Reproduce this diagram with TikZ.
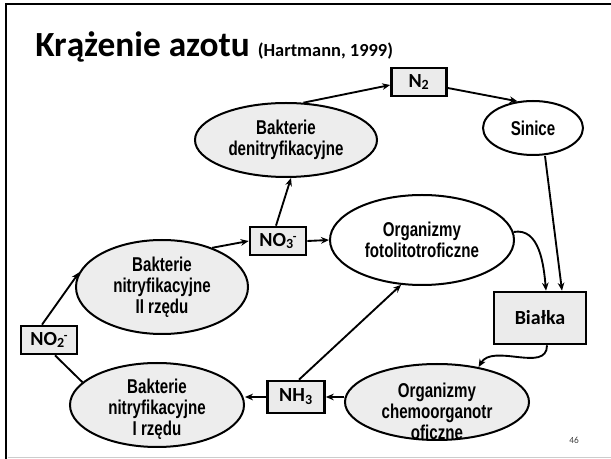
\documentclass[tikz,border=0pt]{standalone}
\usepackage{fontspec}
\setmainfont{Carlito}
\newfontfamily\narrowfont[FakeStretch=0.755]{Liberation Sans}
\usetikzlibrary{shapes.geometric,arrows.meta}
\definecolor{ovalgray}{HTML}{EDEDED}
\definecolor{boxgray}{HTML}{EBEBEB}
\newcommand{\ovalfont}{\narrowfont\bfseries\fontsize{15}{15.75}\selectfont}
\newcommand{\chemfont}{\bfseries\fontsize{15}{17}\selectfont}
\newcommand{\ion}[2]{\textsubscript{#1}\kern-0.05em\raisebox{0.6ex}{\fontsize{9}{9}\selectfont #2}}
\tikzset{
  blob/.style={ellipse, draw, line width=1.5pt, fill=ovalgray, inner sep=0pt,
    align=center, font=\ovalfont},
  chem/.style={rectangle, draw, line width=2pt, fill=boxgray, inner sep=0pt,
    font=\chemfont},
  flow/.style={line width=1.4pt, -{Stealth[length=6pt,width=5pt]}},
  link/.style={line width=1.4pt},
}
\begin{document}
\begin{tikzpicture}[x=0.75pt,y=-0.75pt]
\useasboundingbox (0,0) rectangle (611,459);
% slide frame
\draw[line width=1.6pt] (6,459) -- (6,4) -- (611,4);
\draw[gray!40, line width=0.8pt] (8,457.5) -- (611,457.5);

% title
\node[anchor=base west, inner sep=0pt] (title) at (35,57)
  {\fontsize{26.5}{30}\selectfont\bfseries Krążenie azotu
   \fontsize{13.8}{16}\selectfont (Hartmann, 1999)};

% compounds
\node[chem, minimum width=55*0.75pt, minimum height=28*0.75pt] (n2) at (419,82) {N\textsubscript{2}};
\node[chem, minimum width=56*0.75pt, minimum height=28*0.75pt] (no3) at (278,241) {NO\ion{3}{-}};
\node[chem, minimum width=56*0.75pt, minimum height=28*0.75pt] (no2) at (49,340) {NO\ion{2}{-}};
\node[chem, minimum width=57*0.75pt, minimum height=32*0.75pt] (nh3) at (296,397) {NH\textsubscript{3}};
\node[chem, minimum width=92*0.75pt, minimum height=52*0.75pt] (bialka) at (540,318) {Białka};

% organisms
\node[blob, fill=white, minimum width=100*0.75pt, minimum height=54*0.75pt] (sinice) at (533,128) {Sinice};
\node[blob, minimum width=182*0.75pt, minimum height=74*0.75pt] (denitr) at (286,140) {Bakterie\\denitryfikacyjne};
\node[blob, fill=white, minimum width=184*0.75pt, minimum height=90*0.75pt] (foto) at (422,240) {Organizmy\\fotolitotroficzne};
\node[blob, minimum width=172*0.75pt, minimum height=94*0.75pt] (nitrII) at (162,287) {Bakterie\\nitryfikacyjne\\II rzędu};
\node[blob, minimum width=174*0.75pt, minimum height=84*0.75pt] (nitrI) at (157,405) {};
\node[align=center, font=\ovalfont, inner sep=0pt] (nitrItext) at (157,409) {Bakterie\\nitryfikacyjne\\I rzędu};
\node[blob, minimum width=184*0.75pt, minimum height=76*0.75pt] (chemo) at (437,402) {};
\node[align=center, font=\ovalfont, inner sep=0pt] (chemotext) at (437,411) {Organizmy\\chemoorganotr\\oficzne};

% page number
\node[font=\fontsize{7}{8}\selectfont, text=black!75, inner sep=0pt] (pageno) at (574,440) {46};

% flows
\draw[flow] (denitr.65) -- (n2.west |- 0,85);
\draw[flow] (n2.east |- 0,88) -- (sinice.120);
\draw[flow] ([xshift=12*0.75pt]sinice.south) -- ([xshift=22*0.75pt]bialka.north);
\draw[flow] (foto.5) to[out=10,in=95] ([xshift=6*0.75pt]bialka.north);
\draw[flow] ([xshift=7*0.75pt]bialka.south) to[out=-90,in=60] (chemo.40);
\draw[flow] (chemo.west |- nh3.east) -- (nh3.east);
\draw[flow] (nh3.west) -- (nitrI.east |- nh3.west);
\draw[flow] ([xshift=3*0.75pt]nh3.north) -- (foto.-115);
\draw[link] (nitrI.163) -- ([xshift=6*0.75pt]no2.south);
\draw[flow] ([xshift=-7*0.75pt]no2.north) -- (nitrII.170);
\draw[flow] (nitrII.38) -- (no3.west);
\draw[flow] ([xshift=-2*0.75pt]no3.north) -- ([xshift=5*0.75pt]denitr.south);
\draw[flow] (no3.east) -- (foto.west);
\end{tikzpicture}
\end{document}
